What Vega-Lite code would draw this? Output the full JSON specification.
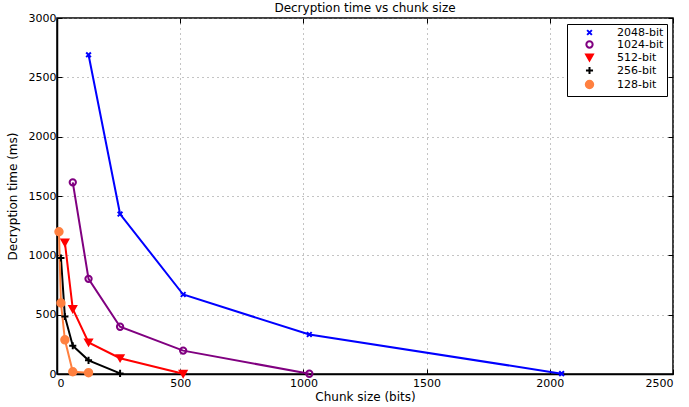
{
  "$schema": "https://vega.github.io/schema/vega-lite/v6.json",
  "autosize": {"type": "none"},
  "width": 616,
  "height": 356,
  "padding": {"left": 57, "top": 18, "right": 16, "bottom": 33},
  "background": "white",
  "title": {"text": "Decryption time vs chunk size", "fontSize": 12, "font": "DejaVu Sans", "fontWeight": "normal", "offset": -3, "color": "black"},
  "config": {
    "font": "DejaVu Sans",
    "view": {"stroke": "black", "strokeWidth": 1.5},
    "axis": {"labelFont": "DejaVu Sans", "labelFontSize": 11, "labelColor": "black", "titleFont": "DejaVu Sans", "titleFontSize": 12, "titleFontWeight": "normal", "titleColor": "black", "domainColor": "black", "domainWidth": 1.5, "tickColor": "black", "gridColor": "#888", "gridDash": [1, 4], "gridOpacity": 1, "gridWidth": 1, "tickSize": -5, "format": "d"}
  },
  "data": {"values": [
    {"series": "2048-bit", "x": 128, "y": 2690},
    {"series": "2048-bit", "x": 256, "y": 1348},
    {"series": "2048-bit", "x": 512, "y": 670},
    {"series": "2048-bit", "x": 1024, "y": 333},
    {"series": "2048-bit", "x": 2048, "y": 3},
    {"series": "1024-bit", "x": 64, "y": 1615},
    {"series": "1024-bit", "x": 128, "y": 802},
    {"series": "1024-bit", "x": 256, "y": 398},
    {"series": "1024-bit", "x": 512, "y": 197},
    {"series": "1024-bit", "x": 1024, "y": 2},
    {"series": "512-bit", "x": 32, "y": 1108},
    {"series": "512-bit", "x": 64, "y": 548},
    {"series": "512-bit", "x": 128, "y": 266},
    {"series": "512-bit", "x": 256, "y": 133},
    {"series": "512-bit", "x": 512, "y": 2},
    {"series": "256-bit", "x": 16, "y": 978},
    {"series": "256-bit", "x": 32, "y": 485},
    {"series": "256-bit", "x": 64, "y": 238},
    {"series": "256-bit", "x": 128, "y": 115},
    {"series": "256-bit", "x": 256, "y": 5},
    {"series": "128-bit", "x": 8, "y": 1199},
    {"series": "128-bit", "x": 16, "y": 598},
    {"series": "128-bit", "x": 32, "y": 288},
    {"series": "128-bit", "x": 64, "y": 19},
    {"series": "128-bit", "x": 128, "y": 11}
  ]},
  "encoding": {
    "stroke": {"field": "series", "type": "nominal", "title": null,
      "scale": {"domain": ["2048-bit", "1024-bit", "512-bit", "256-bit", "128-bit"], "range": ["#0000ff", "#800080", "#ff0000", "#000000", "#ff8040"]},
      "legend": {"orient": "top-right", "offset": 6, "strokeColor": "black", "fillColor": "white", "padding": 3, "labelFontSize": 11, "labelFont": "DejaVu Sans", "labelColor": "black", "symbolStrokeWidth": 2, "rowPadding": -5, "symbolOffset": 14, "labelOffset": 22}}
  },
  "resolve": {"axis": {"x": "independent", "y": "independent"}},
  "layer": [
    {"mark": {"type": "line", "strokeWidth": 2},
     "encoding": {
       "x": {"field": "x", "type": "quantitative", "scale": {"domain": [0, 2500], "nice": false}, "axis": {"title": "Chunk size (bits)", "values": [0, 500, 1000, 1500, 2000, 2500], "titlePadding": 3, "labelPadding": 8}},
       "y": {"field": "y", "type": "quantitative", "scale": {"domain": [0, 3000], "nice": false}, "axis": {"title": "Decryption time (ms)", "values": [0, 500, 1000, 1500, 2000, 2500, 3000], "titlePadding": 9, "labelPadding": 6}},
       "detail": {"field": "series"}}},
    {"mark": {"type": "point", "strokeWidth": 2, "opacity": 1},
     "encoding": {
       "x": {"field": "x", "type": "quantitative", "axis": {"orient": "top", "values": [0, 500, 1000, 1500, 2000, 2500], "labels": false, "grid": false, "title": null, "domain": false}},
       "y": {"field": "y", "type": "quantitative", "axis": {"orient": "right", "values": [0, 500, 1000, 1500, 2000, 2500, 3000], "labels": false, "grid": false, "title": null, "domain": false}},
       "shape": {"field": "series", "type": "nominal", "title": null, "scale": {"domain": ["2048-bit", "1024-bit", "512-bit", "256-bit", "128-bit"], "range": ["M-0.8,-0.8L0.8,0.8M-0.8,0.8L0.8,-0.8", "circle", "triangle-down", "M-1,0H1M0,-1V1", "circle"]}},
       "size": {"field": "series", "type": "nominal", "title": null, "scale": {"domain": ["2048-bit", "1024-bit", "512-bit", "256-bit", "128-bit"], "range": [35, 55, 75, 40, 40]}},
       "fill": {"field": "series", "type": "nominal", "title": null, "scale": {"domain": ["2048-bit", "1024-bit", "512-bit", "256-bit", "128-bit"], "range": ["transparent", "transparent", "#ff0000", "transparent", "#ff8040"]}}
     }}
  ]
}
